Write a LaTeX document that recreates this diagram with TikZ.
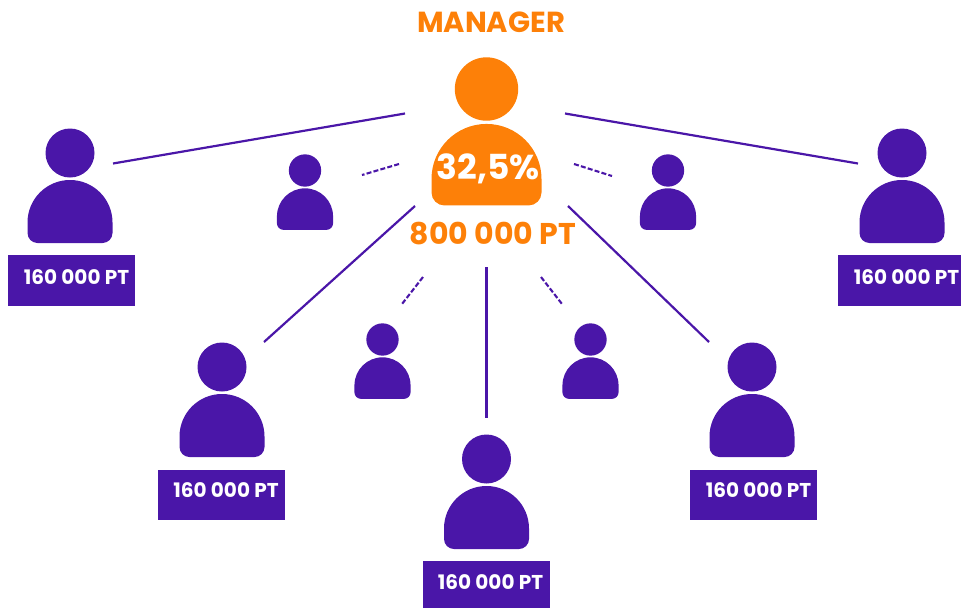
\documentclass[tikz,border=0pt]{standalone}
\usepackage{fontspec}
\setmainfont{Poppins}
\definecolor{plum}{HTML}{4A16A8}
\definecolor{amber}{HTML}{FD8008}
\tikzset{
  x=1pt,y=-1pt,
  pics/person/.style={code={
    \fill[#1] (0,0) circle[radius=24.5];
    \fill[#1] (-42.5,69.5) arc[start angle=180,end angle=360,radius=42.5] -- (42.5,80) arc[start angle=0,end angle=90,radius=10] -- (-32.5,90) arc[start angle=90,end angle=180,radius=10] -- cycle;
  }},
  link/.style={draw=plum,line width=2.2pt},
  dashlink/.style={draw=plum,line width=2.1pt,dash pattern=on 5pt off 2.2pt},
  tag/.style={fill=plum,minimum width=127pt,minimum height=50.5pt,inner sep=0pt,anchor=north west},
  tagtext/.style={text=white,font=\fontsize{20}{20}\selectfont\bfseries,inner sep=0pt},
  headline/.style={text=amber,font=\fontsize{30}{30}\selectfont\bfseries,inner sep=0pt}
}
\begin{document}
\begin{tikzpicture}
\useasboundingbox (0,0) rectangle (961,608);
% persons
\pic at (486.5,89) {person={amber,scale=1.294}};
\foreach \px/\py in {70/153,902/153,222/367,752/367,486.5/459}
  \pic at (\px,\py) {person={plum}};
\foreach \px/\py in {305/170.5,668/170.5,382.5/339.5,590.5/339.5}
  \pic at (\px,\py) {person={plum,scale=.66}};
% tags
\node[tag] (tagA) at (8,255) {};
\node[tag,minimum width=123pt] (tagB) at (838,255) {};
\node[tag] (tagC) at (158,469.5) {};
\node[tag] (tagD) at (690,469.5) {};
\node[tag,minimum height=47pt] (tagE) at (423,561) {};
\node[tagtext] (tA) at (76.5,277) {160 000 PT};
\node[tagtext] (tB) at (906.5,277) {160 000 PT};
\node[tagtext] (tC) at (226,490) {160 000 PT};
\node[tagtext] (tD) at (758.5,490) {160 000 PT};
\node[tagtext] (tE) at (490.5,582) {160 000 PT};
% headings
\node[headline,font=\fontsize{29}{29}\selectfont\bfseries] (title) at (491,22.5) {MANAGER};
\node[text=white,inner sep=0pt,font=\fontsize{34.5}{34.5}\selectfont\bfseries] (share) at (488,169) {32,5\%};
\node[headline] (amount) at (493,234) {800 000 PT};
% connector ends
\coordinate (m1) at (405,113.5); \coordinate (p1) at (113,163.5);
\coordinate (m2) at (565,113.5); \coordinate (p2) at (858,163.5);
\coordinate (m3) at (415,206); \coordinate (p3) at (264,342);
\coordinate (m4) at (568,206); \coordinate (p4) at (709,342);
\coordinate (m5) at (486.5,267); \coordinate (p5) at (486.5,418);
\coordinate (d1) at (399,164); \coordinate (s1) at (362,175);
\coordinate (d2) at (574,164); \coordinate (s2) at (612,176);
\coordinate (d3) at (423,277); \coordinate (s3) at (402,304);
\coordinate (d4) at (541,277); \coordinate (s4) at (562,304);
\foreach \i in {1,...,5} \draw[link] (m\i) -- (p\i);
\foreach \i in {1,...,4} \draw[dashlink] (d\i) -- (s\i);
\end{tikzpicture}
\end{document}
